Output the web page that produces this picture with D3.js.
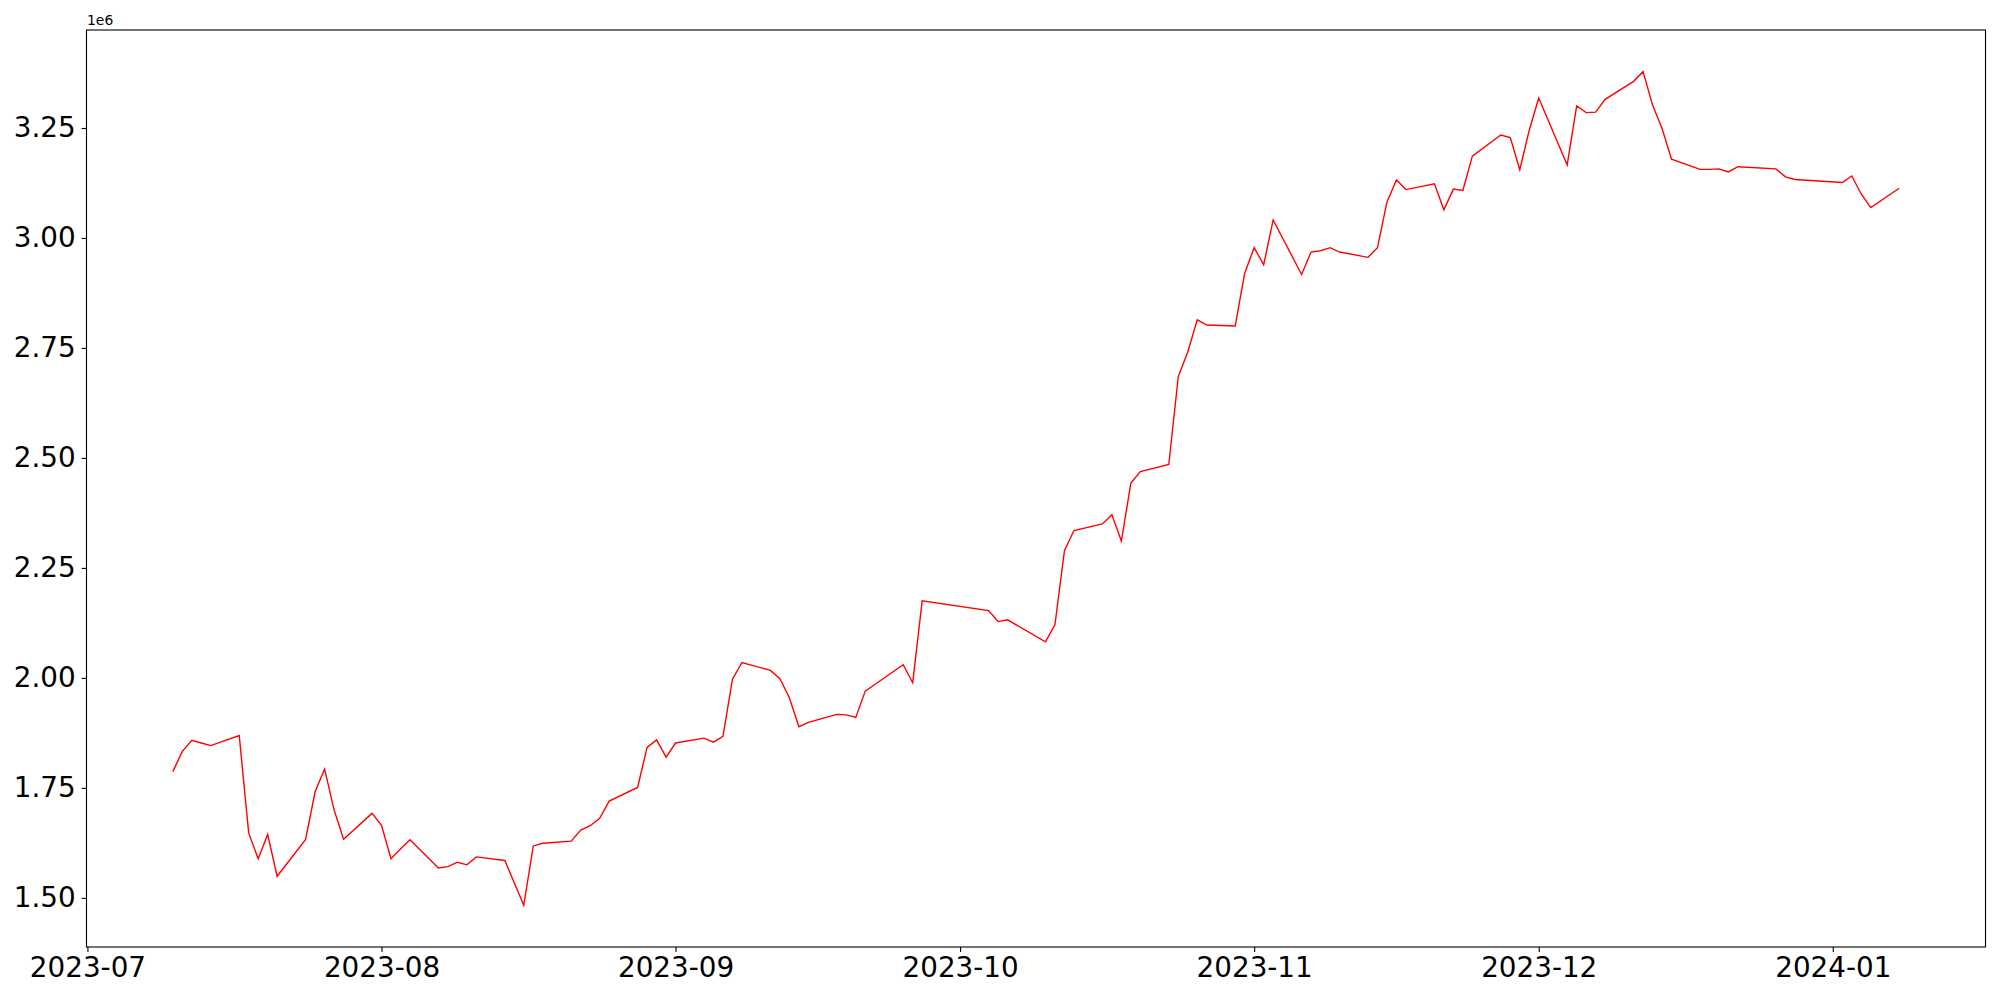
<!DOCTYPE html>
<html>
<head>
<meta charset="utf-8">
<script src="https://cdn.jsdelivr.net/npm/d3@7"></script>
<style>
  html, body { margin: 0; padding: 0; background: #fff; }
  svg { display: block; font-family: "DejaVu Sans", sans-serif; }
</style>
</head>
<body>
<div id="chart"></div>
<script>
const dates = [
  "2023-07-10","2023-07-11","2023-07-12","2023-07-13","2023-07-14","2023-07-17","2023-07-18","2023-07-19","2023-07-20","2023-07-21",
  "2023-07-24","2023-07-25","2023-07-26","2023-07-27","2023-07-28","2023-07-31",
  "2023-08-01","2023-08-02","2023-08-03","2023-08-04","2023-08-07","2023-08-08","2023-08-09","2023-08-10","2023-08-11",
  "2023-08-14","2023-08-16","2023-08-17","2023-08-18","2023-08-21","2023-08-22","2023-08-23","2023-08-24","2023-08-25",
  "2023-08-28","2023-08-29","2023-08-30","2023-08-31",
  "2023-09-01","2023-09-04","2023-09-05","2023-09-06","2023-09-07","2023-09-08","2023-09-11","2023-09-12","2023-09-13","2023-09-14","2023-09-15",
  "2023-09-18","2023-09-19","2023-09-20","2023-09-21","2023-09-22","2023-09-25","2023-09-26","2023-09-27",
  "2023-10-04","2023-10-05","2023-10-06","2023-10-10","2023-10-11","2023-10-12","2023-10-13","2023-10-16","2023-10-17","2023-10-18","2023-10-19","2023-10-20",
  "2023-10-23","2023-10-24","2023-10-25","2023-10-26","2023-10-27","2023-10-30","2023-10-31",
  "2023-11-01","2023-11-02","2023-11-03","2023-11-06","2023-11-07","2023-11-08","2023-11-09","2023-11-10","2023-11-13","2023-11-14","2023-11-15","2023-11-16","2023-11-17",
  "2023-11-20","2023-11-21","2023-11-22","2023-11-23","2023-11-24","2023-11-27","2023-11-28","2023-11-29","2023-11-30",
  "2023-12-01","2023-12-04","2023-12-05","2023-12-06","2023-12-07","2023-12-08","2023-12-11","2023-12-12","2023-12-13","2023-12-14","2023-12-15",
  "2023-12-18","2023-12-19","2023-12-20","2023-12-21","2023-12-22","2023-12-26","2023-12-27","2023-12-28",
  "2024-01-02","2024-01-03","2024-01-04","2024-01-05","2024-01-08"
];

// values in millions (axis shows 1e6 offset)
const values = [
  1.787,1.833,1.858,1.852,1.846,1.869,1.647,1.589,1.644,1.549,
  1.633,1.741,1.793,1.700,1.633,1.692,
  1.665,1.589,1.611,1.632,1.568,1.571,1.581,1.575,1.593,
  1.585,1.483,1.618,1.624,1.629,1.654,1.664,1.681,1.720,
  1.751,1.842,1.859,1.820,
  1.852,1.863,1.854,1.867,1.997,2.035,2.017,1.998,1.955,1.889,1.899,
  1.917,1.916,1.910,1.970,1.985,2.030,1.989,2.175,
  2.153,2.128,2.132,2.082,2.121,2.289,2.335,2.350,2.371,2.311,2.443,2.469,
  2.485,2.685,2.741,2.814,2.802,2.800,2.920,
  2.978,2.939,3.041,2.917,2.968,2.971,2.978,2.968,2.956,2.978,3.082,3.132,3.110,
  3.123,3.064,3.111,3.108,3.186,3.234,3.228,3.155,3.245,
  3.318,3.166,3.300,3.285,3.286,3.315,3.356,3.378,3.302,3.249,3.179,
  3.156,3.156,3.157,3.150,3.162,3.157,3.139,3.133,
  3.126,3.141,3.100,3.069,3.113
];

const yTicks = [1.50, 1.75, 2.00, 2.25, 2.50, 2.75, 3.00, 3.25];
const xTicks = ["2023-07-01","2023-08-01","2023-09-01","2023-10-01","2023-11-01","2023-12-01","2024-01-01"];
const offsetLabel = "1e6";

const width = 2000, height = 1000;
const margin = {top: 30, right: 14.5, bottom: 53, left: 86.5};

const parse = d3.utcParse("%Y-%m-%d");
const data = dates.map((d, i) => ({date: parse(d), value: values[i]}));

// matplotlib style 5% margins around the data
const pad = (ext) => {
  const span = ext[1] - ext[0];
  return [ext[0] - span * 0.05, ext[1] + span * 0.05];
};
const xExt = d3.extent(data, d => +d.date);
const x = d3.scaleUtc()
  .domain(pad(xExt).map(t => new Date(t)))
  .range([margin.left, width - margin.right]);
const y = d3.scaleLinear()
  .domain(pad(d3.extent(data, d => d.value)))
  .range([height - margin.bottom, margin.top]);

const svg = d3.create("svg")
  .attr("viewBox", [0, 0, width, height])
  .attr("width", width)
  .attr("height", height);

svg.append("path")
  .datum(data)
  .attr("fill", "none")
  .attr("stroke", "#ff0000")
  .attr("stroke-width", 1.4)
  .attr("stroke-linejoin", "miter")
  .attr("d", d3.line().x(d => x(d.date)).y(d => y(d.value)));

const xAxis = svg.append("g")
  .attr("transform", `translate(0,${height - margin.bottom})`)
  .call(d3.axisBottom(x)
    .tickValues(xTicks.map(parse))
    .tickFormat(d3.utcFormat("%Y-%m"))
    .tickSize(4.9)
    .tickPadding(5));

const yAxis = svg.append("g")
  .attr("transform", `translate(${margin.left},0)`)
  .call(d3.axisLeft(y)
    .tickValues(yTicks)
    .tickFormat(d3.format(".2f"))
    .tickSize(4.9)
    .tickPadding(6));

[xAxis, yAxis].forEach(g => {
  g.select(".domain").remove();
  g.selectAll(".tick line").attr("stroke", "#000").attr("stroke-width", 1.1);
  g.selectAll(".tick text")
    .attr("fill", "#000")
    .attr("font-family", "DejaVu Sans, sans-serif")
    .attr("font-size", 27.8);
});

// axes frame
svg.append("rect")
  .attr("x", margin.left)
  .attr("y", margin.top)
  .attr("width", width - margin.left - margin.right)
  .attr("height", height - margin.top - margin.bottom)
  .attr("fill", "none")
  .attr("stroke", "#000")
  .attr("stroke-width", 1.1);

svg.append("text")
  .attr("x", margin.left + 0.5)
  .attr("y", margin.top - 5)
  .attr("font-family", "DejaVu Sans, sans-serif")
  .attr("font-size", 13.9)
  .attr("fill", "#000")
  .text(offsetLabel);

document.querySelector("#chart").appendChild(svg.node());
</script>
</body>
</html>
